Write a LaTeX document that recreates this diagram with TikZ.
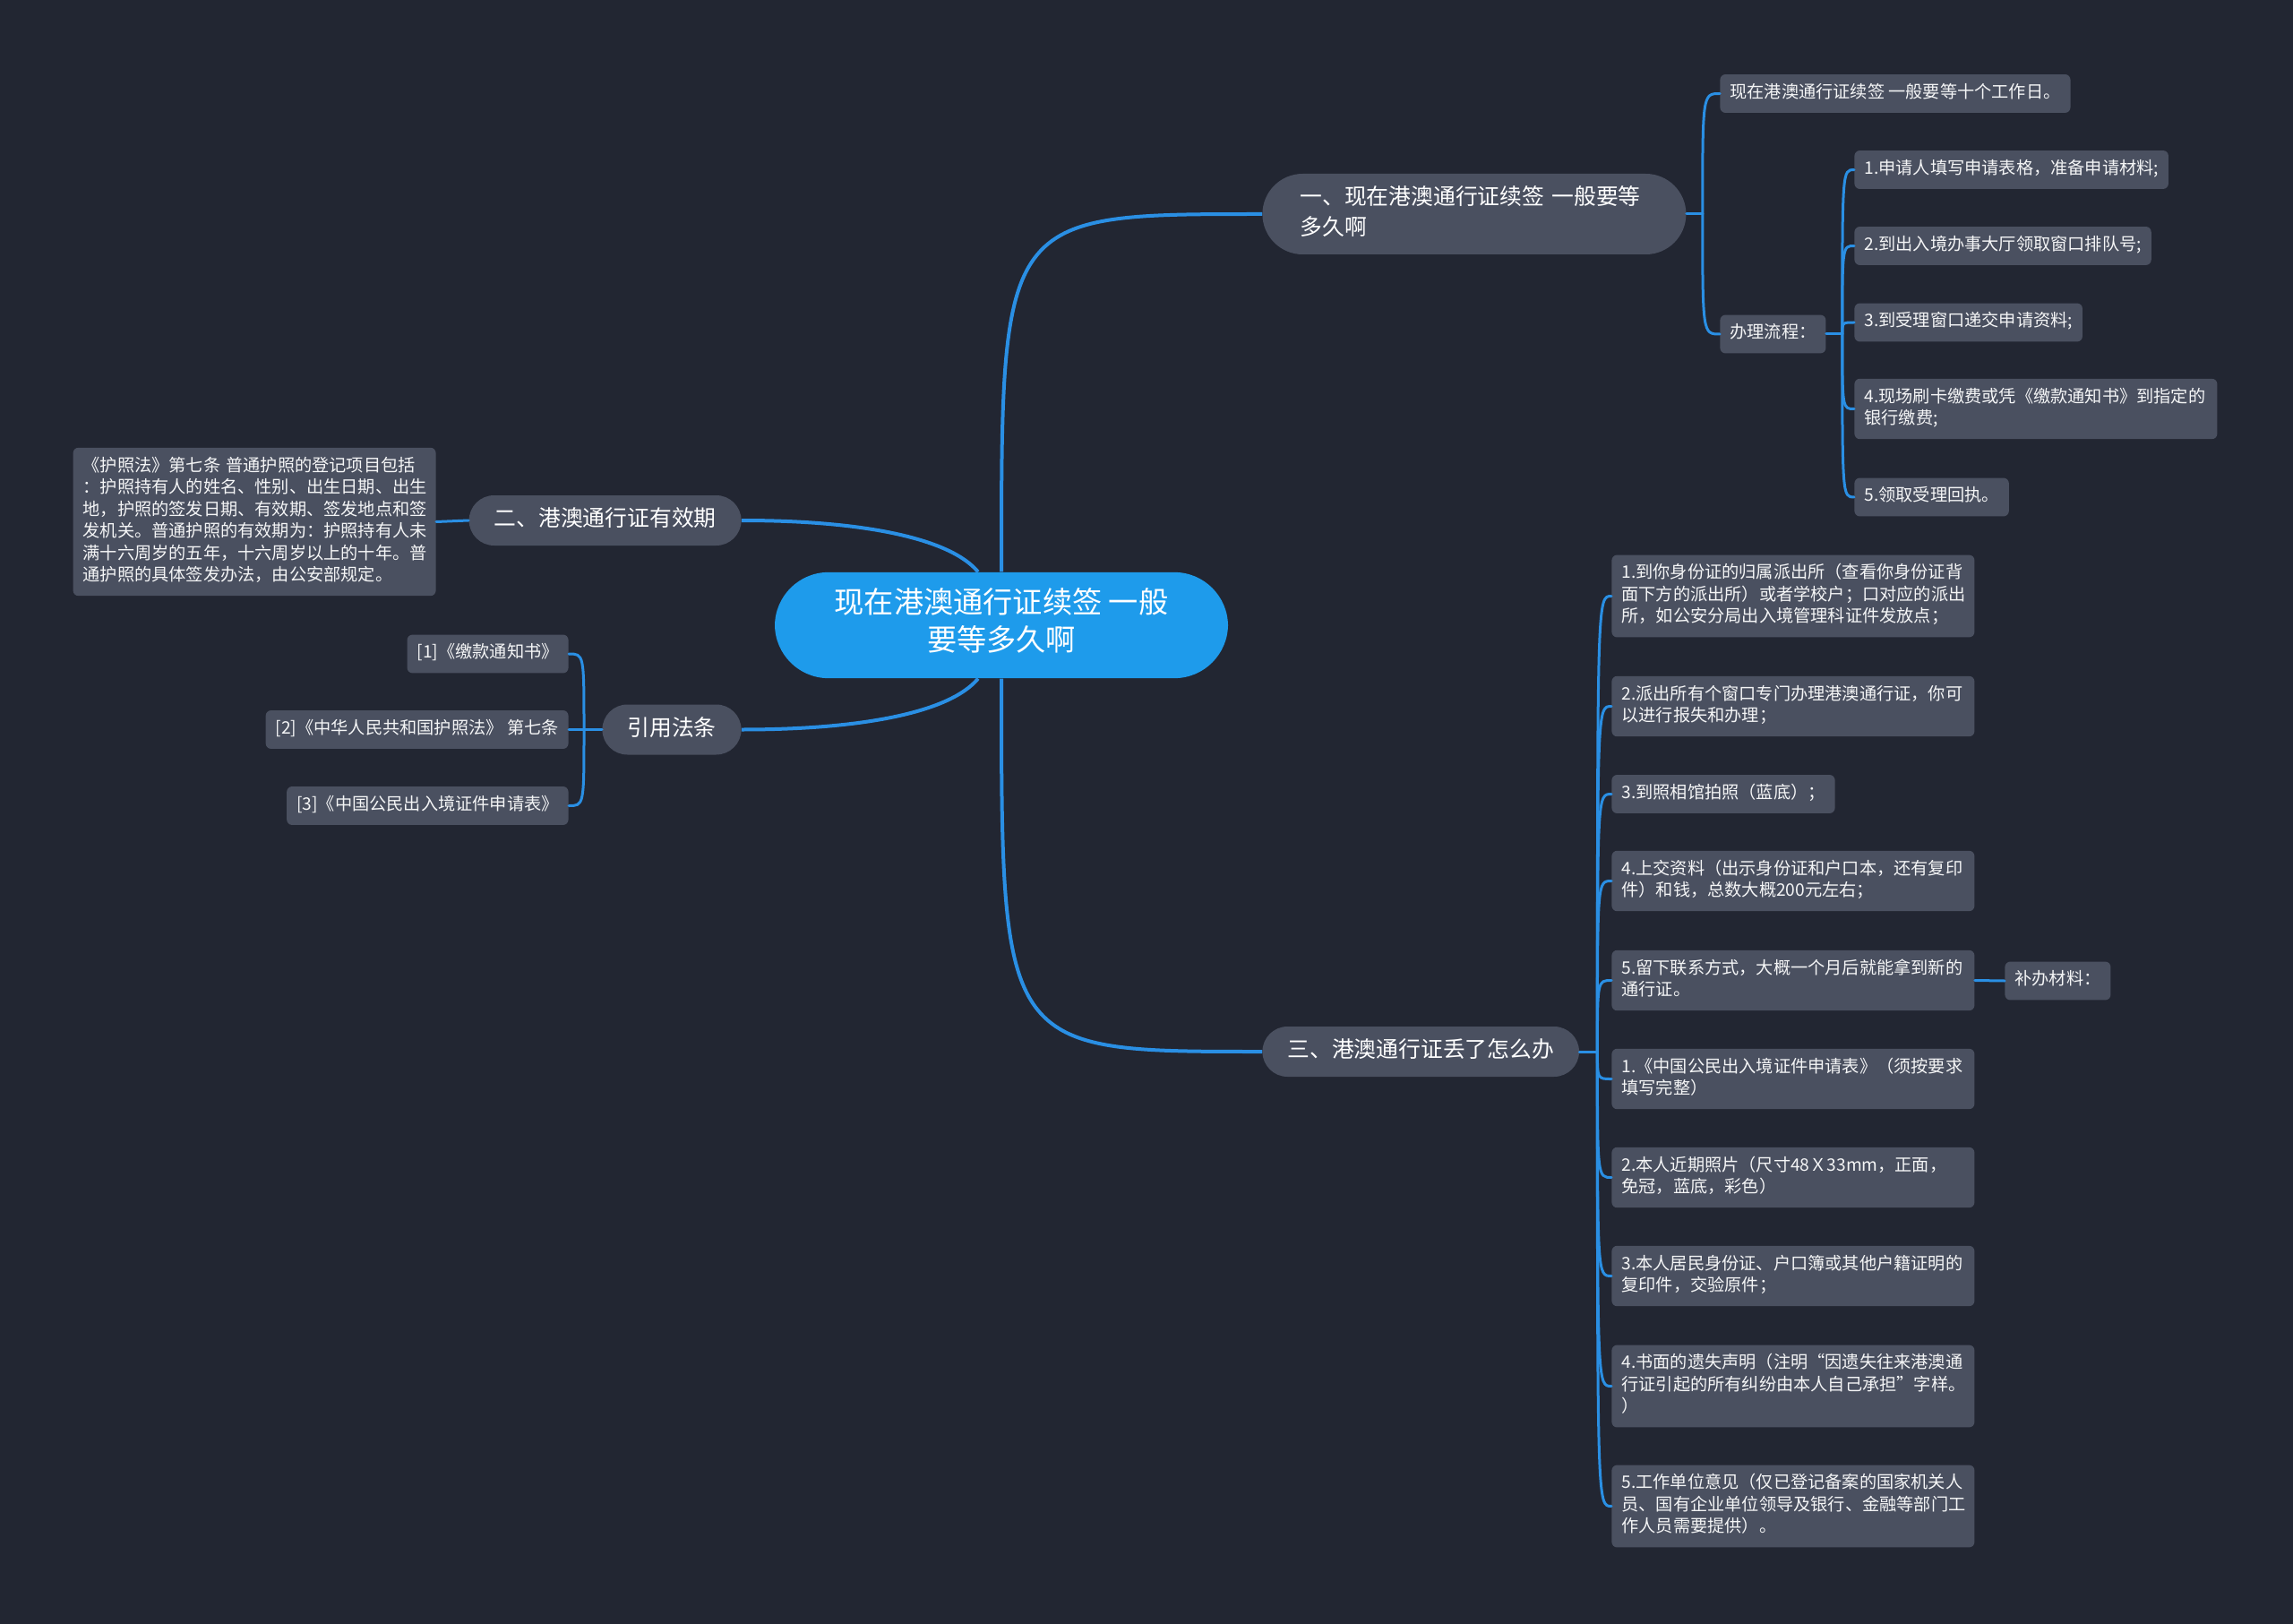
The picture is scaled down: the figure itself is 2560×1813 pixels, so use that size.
\documentclass[tikz,border=0pt]{standalone}
\usepackage{fontspec}
\setmainfont{Noto Sans CJK SC}
\usepackage{tikz}
\usetikzlibrary{positioning}
\usepackage{xcolor}
\definecolor{bgc}{HTML}{222632}
\definecolor{boxc}{HTML}{4A5060}
\definecolor{rootc}{HTML}{1E9BEB}
\definecolor{linkc}{HTML}{2A8FE4}

\begin{document}
\begin{tikzpicture}[x=0.5pt,y=-0.5pt,
  root/.style={fill=rootc,text=white,rounded corners=30pt,minimum width=253pt,inner ysep=8.75pt,align=center,font=\fontsize{16.6}{21.25}\selectfont,execute at begin node=\strut,execute at end node=\strut},
  branch/.style={fill=boxc,text=white,rounded corners=14pt,inner xsep=14pt,inner ysep=5.5pt,align=left,font=\fontsize{12.4}{17}\selectfont,execute at begin node=\strut,execute at end node=\strut},
  leaf/.style={fill=boxc,text=white!94!boxc,rounded corners=3pt,inner xsep=5.5pt,inner ysep=4.6pt,align=left,font=\fontsize{9.6}{12.25}\selectfont,execute at begin node=\strut,execute at end node=\strut},
  wide/.style={leaf,text width=191.5pt},
  link/.style={draw=linkc,line width=1.5pt,line cap=round},
  trunk/.style={draw=linkc,line width=2pt}]
\useasboundingbox (0,0) rectangle (2560,1813);
\fill[bgc] (0,0) rectangle (2560,1813);

\node (c0) [root] at (1118,698) {现在港澳通行证续签 一般\\要等多久啊};

\node (t1) [branch,anchor=west,inner xsep=21pt,text width=194.5pt,rounded corners=22.5pt] at (1409,239) {一、现在港澳通行证续签 一般要等\\多久啊};
\node (t2) [branch,anchor=east] at (828,581) {二、港澳通行证有效期};
\node (t3) [branch,anchor=west] at (1409,1174) {三、港澳通行证丢了怎么办};
\node (t4) [branch,anchor=east] at (828,814.5) {引用法条};

\node (a1) [leaf,anchor=west] at (1920,104.5) {现在港澳通行证续签 一般要等十个工作日。};
\node (a2) [leaf,anchor=west] at (1920,373) {办理流程：};
\node (p1) [leaf,anchor=west] at (2070,189.5) {1.申请人填写申请表格，准备申请材料;};
\node (p2) [leaf,anchor=west] at (2070,274.5) {2.到出入境办事大厅领取窗口排队号;};
\node (p3) [leaf,anchor=west] at (2070,360) {3.到受理窗口递交申请资料;};
\node (p4) [wide,anchor=west] at (2070,456.5) {4.现场刷卡缴费或凭《缴款通知书》到指定的\\银行缴费;};
\node (p5) [leaf,anchor=west] at (2070,555) {5.领取受理回执。};

\node (h1) [wide,anchor=east] at (487,582.5) {《护照法》第七条 普通护照的登记项目包括\\：护照持有人的姓名、性别、出生日期、出生\\地，护照的签发日期、有效期、签发地点和签\\发机关。普通护照的有效期为：护照持有人未\\满十六周岁的五年，十六周岁以上的十年。普\\通护照的具体签发办法，由公安部规定。};

\node (r1) [leaf,anchor=east] at (635,730) {[1]《缴款通知书》};
\node (r2) [leaf,anchor=east] at (635,814.5) {[2]《中华人民共和国护照法》 第七条};
\node (r3) [leaf,anchor=east] at (635,899.5) {[3]《中国公民出入境证件申请表》};

\node (s1) [wide,anchor=west] at (1799,665.5) {1.到你身份证的归属派出所（查看你身份证背\\面下方的派出所）或者学校户；口对应的派出\\所，如公安分局出入境管理科证件发放点；};
\node (s2) [wide,anchor=west] at (1799,788.5) {2.派出所有个窗口专门办理港澳通行证，你可\\以进行报失和办理；};
\node (s3) [leaf,anchor=west] at (1799,886.5) {3.到照相馆拍照（蓝底）；};
\node (s4) [wide,anchor=west] at (1799,983.5) {4.上交资料（出示身份证和户口本，还有复印\\件）和钱，总数大概200元左右；};
\node (s5) [wide,anchor=west] at (1799,1094.5) {5.留下联系方式，大概一个月后就能拿到新的\\通行证。};
\node (b1) [leaf,anchor=west] at (2238,1095) {补办材料：};
\node (m1) [wide,anchor=west] at (1799,1204.5) {1.《中国公民出入境证件申请表》（须按要求\\填写完整）};
\node (m2) [wide,anchor=west] at (1799,1314.5) {2.本人近期照片（尺寸48Ｘ33mm，正面，\\免冠，蓝底，彩色）};
\node (m3) [wide,anchor=west] at (1799,1424.5) {3.本人居民身份证、户口簿或其他户籍证明的\\复印件，交验原件；};
\node (m4) [wide,anchor=west] at (1799,1547.5) {4.书面的遗失声明（注明“因遗失往来港澳通\\行证引起的所有纠纷由本人自己承担”字样。\\）};
\node (m5) [wide,anchor=west] at (1799,1681.5) {5.工作单位意见（仅已登记备案的国家机关人\\员、国有企业单位领导及银行、金融等部门工\\作人员需要提供）。};

\draw[trunk] (c0.north) .. controls (c0.north |- t1.west) .. (t1.west);
\draw[trunk] (c0.south) .. controls (c0.south |- t3.west) .. (t3.west);
\draw[trunk] ([xshift=-13pt]c0.north) .. controls (1060,600) and (960,581) .. (t2.east);
\draw[trunk] ([xshift=-13pt]c0.south) .. controls (1060,796) and (960,814.5) .. (t4.east);

\coordinate (j1) at ([xshift=9pt]t1.east);
\draw[link] (t1.east) -- (j1);
\foreach \c in {a1,a2}
  \draw[link] (j1) .. controls (j1 |- \c.west) .. (\c.west);

\coordinate (j2) at ([xshift=9pt]a2.east);
\draw[link] (a2.east) -- (j2);
\foreach \c in {p1,p2,p3,p4,p5}
  \draw[link] (j2) .. controls (j2 |- \c.west) .. (\c.west);

\draw[link] (t2.west) -- (h1.east);

\coordinate (j4) at ([xshift=-10pt]t4.west);
\draw[link] (t4.west) -- (j4);
\foreach \c in {r1,r2,r3}
  \draw[link] (j4) .. controls (j4 |- \c.east) .. (\c.east);

\coordinate (j3) at ([xshift=10pt]t3.east);
\draw[link] (t3.east) -- (j3);
\foreach \c in {s1,s2,s3,s4,s5,m1,m2,m3,m4,m5}
  \draw[link] (j3) .. controls (j3 |- \c.west) .. (\c.west);
\draw[link] (s5.east) -- (b1.west);
\end{tikzpicture}
\end{document}
